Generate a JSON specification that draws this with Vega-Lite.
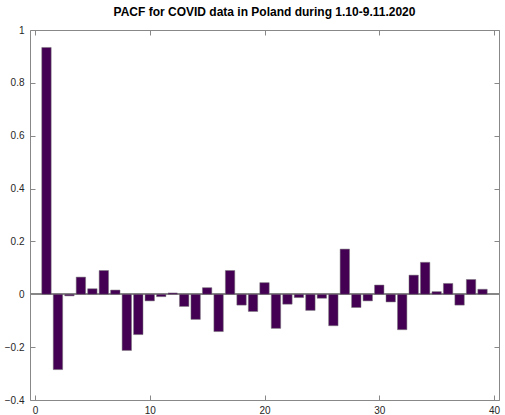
{
  "$schema": "https://vega.github.io/schema/vega-lite/v6.json",
  "width": 469,
  "height": 370,
  "autosize": "none",
  "padding": {"left": 30, "top": 30, "right": 6, "bottom": 15},
  "title": {"text": "PACF for COVID data in Poland during 1.10-9.11.2020", "font": "Liberation Sans", "fontSize": 12, "fontWeight": "bold", "color": "#000", "offset": 6},
  "config": {
    "view": {"stroke": "#888", "strokeWidth": 1},
    "axis": {"grid": false, "domain": false, "tickColor": "#888", "tickSize": -5, "labelFont": "Liberation Sans", "labelFontSize": 10, "labelColor": "#262626", "title": null}
  },
  "data": {"values": [
    {"lag": 1, "pacf": 0.934}, {"lag": 2, "pacf": -0.285}, {"lag": 3, "pacf": -0.006}, {"lag": 4, "pacf": 0.065},
    {"lag": 5, "pacf": 0.021}, {"lag": 6, "pacf": 0.09}, {"lag": 7, "pacf": 0.016}, {"lag": 8, "pacf": -0.2125},
    {"lag": 9, "pacf": -0.1525}, {"lag": 10, "pacf": -0.025}, {"lag": 11, "pacf": -0.009}, {"lag": 12, "pacf": 0.005},
    {"lag": 13, "pacf": -0.046}, {"lag": 14, "pacf": -0.095}, {"lag": 15, "pacf": 0.025}, {"lag": 16, "pacf": -0.141},
    {"lag": 17, "pacf": 0.09}, {"lag": 18, "pacf": -0.041}, {"lag": 19, "pacf": -0.065}, {"lag": 20, "pacf": 0.044},
    {"lag": 21, "pacf": -0.129}, {"lag": 22, "pacf": -0.0375}, {"lag": 23, "pacf": -0.0125}, {"lag": 24, "pacf": -0.061},
    {"lag": 25, "pacf": -0.015}, {"lag": 26, "pacf": -0.119}, {"lag": 27, "pacf": 0.171}, {"lag": 28, "pacf": -0.05},
    {"lag": 29, "pacf": -0.025}, {"lag": 30, "pacf": 0.035}, {"lag": 31, "pacf": -0.029}, {"lag": 32, "pacf": -0.134},
    {"lag": 33, "pacf": 0.0725}, {"lag": 34, "pacf": 0.121}, {"lag": 35, "pacf": 0.01}, {"lag": 36, "pacf": 0.041},
    {"lag": 37, "pacf": -0.041}, {"lag": 38, "pacf": 0.056}, {"lag": 39, "pacf": 0.019}
  ]},
  "layer": [
    {
      "mark": {"type": "rule", "color": "#888", "strokeWidth": 1},
      "encoding": {"y": {"datum": 0, "type": "quantitative", "axis": null}}
    },
    {
      "mark": {"type": "bar", "width": 9.4, "fill": "#440154", "stroke": "#777", "strokeWidth": 0.5},
      "encoding": {
        "x": {"field": "lag", "type": "quantitative", "scale": {"domain": [0, 40], "nice": false, "zero": false},
              "axis": {"orient": "bottom", "values": [0, 10, 20, 30, 40], "labelPadding": 10, "labelFlush": false}},
        "y": {"field": "pacf", "type": "quantitative", "scale": {"domain": [-0.4, 1], "nice": false},
              "axis": {"orient": "left", "values": [-0.4, -0.2, 0, 0.2, 0.4, 0.6, 0.8, 1], "format": "~r", "labelPadding": 11, "labelFlush": false}}
      }
    },
    {
      "mark": {"type": "point", "opacity": 0},
      "encoding": {
        "x": {"field": "lag", "type": "quantitative", "axis": {"orient": "top", "values": [0, 10, 20, 30, 40], "labels": false}},
        "y": {"field": "pacf", "type": "quantitative", "axis": {"orient": "right", "values": [-0.4, -0.2, 0, 0.2, 0.4, 0.6, 0.8, 1], "labels": false}}
      }
    }
  ],
  "resolve": {"axis": {"x": "independent", "y": "independent"}}
}
